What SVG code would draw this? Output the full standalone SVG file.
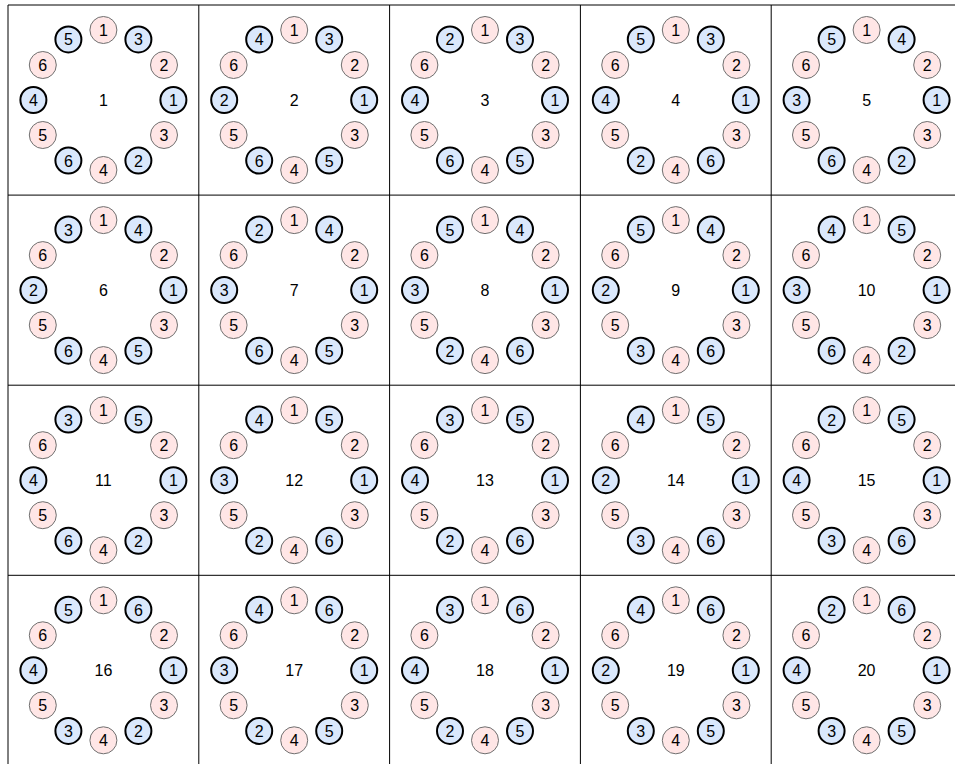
<svg xmlns="http://www.w3.org/2000/svg" width="955" height="764" viewBox="0 0 955 764">
<style>
text{font-family:"Liberation Sans",Arial,sans-serif;font-size:16px;text-anchor:middle;fill:#000}
.p circle{fill:#ffe6e6;stroke:#6f6f6f;stroke-width:1}
.b circle{fill:#dae8fc;stroke:#000;stroke-width:2}
.grid{stroke:#000;stroke-width:1;fill:none}
</style>
<rect x="0" y="0" width="955" height="764" fill="#fff"/>
<g id="grid" class="grid">
<path d="M8 5V765.4M198.8 5V765.4M389.6 5V765.4M580.4 5V765.4M771.2 5V765.4M962 5V765.4M8 5H962M8 195.1H962M8 385.2H962M8 575.3H962M8 765.4H962"/>
</g>
<g id="connectors"></g>

<g id="cell-1" transform="translate(103.4,100)">
<text x="0" y="6">1</text>
<g id="n1-p1" class="p"><circle cx="0" cy="-70" r="13.5"/><text x="0" y="-64">1</text></g>
<g id="n1-ur" class="b"><circle cx="35" cy="-60.6" r="13"/><text x="35" y="-54.6">3</text></g>
<g id="n1-p2" class="p"><circle cx="60.6" cy="-35" r="13.5"/><text x="60.6" y="-29">2</text></g>
<g id="n1-r" class="b"><circle cx="70" cy="0" r="13"/><text x="70" y="6">1</text></g>
<g id="n1-p3" class="p"><circle cx="60.6" cy="35" r="13.5"/><text x="60.6" y="41">3</text></g>
<g id="n1-lr" class="b"><circle cx="35" cy="60.6" r="13"/><text x="35" y="66.6">2</text></g>
<g id="n1-p4" class="p"><circle cx="0" cy="70" r="13.5"/><text x="0" y="76">4</text></g>
<g id="n1-ll" class="b"><circle cx="-35" cy="60.6" r="13"/><text x="-35" y="66.6">6</text></g>
<g id="n1-p5" class="p"><circle cx="-60.6" cy="35" r="13.5"/><text x="-60.6" y="41">5</text></g>
<g id="n1-l" class="b"><circle cx="-70" cy="0" r="13"/><text x="-70" y="6">4</text></g>
<g id="n1-p6" class="p"><circle cx="-60.6" cy="-35" r="13.5"/><text x="-60.6" y="-29">6</text></g>
<g id="n1-ul" class="b"><circle cx="-35" cy="-60.6" r="13"/><text x="-35" y="-54.6">5</text></g>
</g>

<g id="cell-2" transform="translate(294.2,100)">
<text x="0" y="6">2</text>
<g id="n2-p1" class="p"><circle cx="0" cy="-70" r="13.5"/><text x="0" y="-64">1</text></g>
<g id="n2-ur" class="b"><circle cx="35" cy="-60.6" r="13"/><text x="35" y="-54.6">3</text></g>
<g id="n2-p2" class="p"><circle cx="60.6" cy="-35" r="13.5"/><text x="60.6" y="-29">2</text></g>
<g id="n2-r" class="b"><circle cx="70" cy="0" r="13"/><text x="70" y="6">1</text></g>
<g id="n2-p3" class="p"><circle cx="60.6" cy="35" r="13.5"/><text x="60.6" y="41">3</text></g>
<g id="n2-lr" class="b"><circle cx="35" cy="60.6" r="13"/><text x="35" y="66.6">5</text></g>
<g id="n2-p4" class="p"><circle cx="0" cy="70" r="13.5"/><text x="0" y="76">4</text></g>
<g id="n2-ll" class="b"><circle cx="-35" cy="60.6" r="13"/><text x="-35" y="66.6">6</text></g>
<g id="n2-p5" class="p"><circle cx="-60.6" cy="35" r="13.5"/><text x="-60.6" y="41">5</text></g>
<g id="n2-l" class="b"><circle cx="-70" cy="0" r="13"/><text x="-70" y="6">2</text></g>
<g id="n2-p6" class="p"><circle cx="-60.6" cy="-35" r="13.5"/><text x="-60.6" y="-29">6</text></g>
<g id="n2-ul" class="b"><circle cx="-35" cy="-60.6" r="13"/><text x="-35" y="-54.6">4</text></g>
</g>

<g id="cell-3" transform="translate(485,100)">
<text x="0" y="6">3</text>
<g id="n3-p1" class="p"><circle cx="0" cy="-70" r="13.5"/><text x="0" y="-64">1</text></g>
<g id="n3-ur" class="b"><circle cx="35" cy="-60.6" r="13"/><text x="35" y="-54.6">3</text></g>
<g id="n3-p2" class="p"><circle cx="60.6" cy="-35" r="13.5"/><text x="60.6" y="-29">2</text></g>
<g id="n3-r" class="b"><circle cx="70" cy="0" r="13"/><text x="70" y="6">1</text></g>
<g id="n3-p3" class="p"><circle cx="60.6" cy="35" r="13.5"/><text x="60.6" y="41">3</text></g>
<g id="n3-lr" class="b"><circle cx="35" cy="60.6" r="13"/><text x="35" y="66.6">5</text></g>
<g id="n3-p4" class="p"><circle cx="0" cy="70" r="13.5"/><text x="0" y="76">4</text></g>
<g id="n3-ll" class="b"><circle cx="-35" cy="60.6" r="13"/><text x="-35" y="66.6">6</text></g>
<g id="n3-p5" class="p"><circle cx="-60.6" cy="35" r="13.5"/><text x="-60.6" y="41">5</text></g>
<g id="n3-l" class="b"><circle cx="-70" cy="0" r="13"/><text x="-70" y="6">4</text></g>
<g id="n3-p6" class="p"><circle cx="-60.6" cy="-35" r="13.5"/><text x="-60.6" y="-29">6</text></g>
<g id="n3-ul" class="b"><circle cx="-35" cy="-60.6" r="13"/><text x="-35" y="-54.6">2</text></g>
</g>

<g id="cell-4" transform="translate(675.8,100)">
<text x="0" y="6">4</text>
<g id="n4-p1" class="p"><circle cx="0" cy="-70" r="13.5"/><text x="0" y="-64">1</text></g>
<g id="n4-ur" class="b"><circle cx="35" cy="-60.6" r="13"/><text x="35" y="-54.6">3</text></g>
<g id="n4-p2" class="p"><circle cx="60.6" cy="-35" r="13.5"/><text x="60.6" y="-29">2</text></g>
<g id="n4-r" class="b"><circle cx="70" cy="0" r="13"/><text x="70" y="6">1</text></g>
<g id="n4-p3" class="p"><circle cx="60.6" cy="35" r="13.5"/><text x="60.6" y="41">3</text></g>
<g id="n4-lr" class="b"><circle cx="35" cy="60.6" r="13"/><text x="35" y="66.6">6</text></g>
<g id="n4-p4" class="p"><circle cx="0" cy="70" r="13.5"/><text x="0" y="76">4</text></g>
<g id="n4-ll" class="b"><circle cx="-35" cy="60.6" r="13"/><text x="-35" y="66.6">2</text></g>
<g id="n4-p5" class="p"><circle cx="-60.6" cy="35" r="13.5"/><text x="-60.6" y="41">5</text></g>
<g id="n4-l" class="b"><circle cx="-70" cy="0" r="13"/><text x="-70" y="6">4</text></g>
<g id="n4-p6" class="p"><circle cx="-60.6" cy="-35" r="13.5"/><text x="-60.6" y="-29">6</text></g>
<g id="n4-ul" class="b"><circle cx="-35" cy="-60.6" r="13"/><text x="-35" y="-54.6">5</text></g>
</g>

<g id="cell-5" transform="translate(866.6,100)">
<text x="0" y="6">5</text>
<g id="n5-p1" class="p"><circle cx="0" cy="-70" r="13.5"/><text x="0" y="-64">1</text></g>
<g id="n5-ur" class="b"><circle cx="35" cy="-60.6" r="13"/><text x="35" y="-54.6">4</text></g>
<g id="n5-p2" class="p"><circle cx="60.6" cy="-35" r="13.5"/><text x="60.6" y="-29">2</text></g>
<g id="n5-r" class="b"><circle cx="70" cy="0" r="13"/><text x="70" y="6">1</text></g>
<g id="n5-p3" class="p"><circle cx="60.6" cy="35" r="13.5"/><text x="60.6" y="41">3</text></g>
<g id="n5-lr" class="b"><circle cx="35" cy="60.6" r="13"/><text x="35" y="66.6">2</text></g>
<g id="n5-p4" class="p"><circle cx="0" cy="70" r="13.5"/><text x="0" y="76">4</text></g>
<g id="n5-ll" class="b"><circle cx="-35" cy="60.6" r="13"/><text x="-35" y="66.6">6</text></g>
<g id="n5-p5" class="p"><circle cx="-60.6" cy="35" r="13.5"/><text x="-60.6" y="41">5</text></g>
<g id="n5-l" class="b"><circle cx="-70" cy="0" r="13"/><text x="-70" y="6">3</text></g>
<g id="n5-p6" class="p"><circle cx="-60.6" cy="-35" r="13.5"/><text x="-60.6" y="-29">6</text></g>
<g id="n5-ul" class="b"><circle cx="-35" cy="-60.6" r="13"/><text x="-35" y="-54.6">5</text></g>
</g>

<g id="cell-6" transform="translate(103.4,290.1)">
<text x="0" y="6">6</text>
<g id="n6-p1" class="p"><circle cx="0" cy="-70" r="13.5"/><text x="0" y="-64">1</text></g>
<g id="n6-ur" class="b"><circle cx="35" cy="-60.6" r="13"/><text x="35" y="-54.6">4</text></g>
<g id="n6-p2" class="p"><circle cx="60.6" cy="-35" r="13.5"/><text x="60.6" y="-29">2</text></g>
<g id="n6-r" class="b"><circle cx="70" cy="0" r="13"/><text x="70" y="6">1</text></g>
<g id="n6-p3" class="p"><circle cx="60.6" cy="35" r="13.5"/><text x="60.6" y="41">3</text></g>
<g id="n6-lr" class="b"><circle cx="35" cy="60.6" r="13"/><text x="35" y="66.6">5</text></g>
<g id="n6-p4" class="p"><circle cx="0" cy="70" r="13.5"/><text x="0" y="76">4</text></g>
<g id="n6-ll" class="b"><circle cx="-35" cy="60.6" r="13"/><text x="-35" y="66.6">6</text></g>
<g id="n6-p5" class="p"><circle cx="-60.6" cy="35" r="13.5"/><text x="-60.6" y="41">5</text></g>
<g id="n6-l" class="b"><circle cx="-70" cy="0" r="13"/><text x="-70" y="6">2</text></g>
<g id="n6-p6" class="p"><circle cx="-60.6" cy="-35" r="13.5"/><text x="-60.6" y="-29">6</text></g>
<g id="n6-ul" class="b"><circle cx="-35" cy="-60.6" r="13"/><text x="-35" y="-54.6">3</text></g>
</g>

<g id="cell-7" transform="translate(294.2,290.1)">
<text x="0" y="6">7</text>
<g id="n7-p1" class="p"><circle cx="0" cy="-70" r="13.5"/><text x="0" y="-64">1</text></g>
<g id="n7-ur" class="b"><circle cx="35" cy="-60.6" r="13"/><text x="35" y="-54.6">4</text></g>
<g id="n7-p2" class="p"><circle cx="60.6" cy="-35" r="13.5"/><text x="60.6" y="-29">2</text></g>
<g id="n7-r" class="b"><circle cx="70" cy="0" r="13"/><text x="70" y="6">1</text></g>
<g id="n7-p3" class="p"><circle cx="60.6" cy="35" r="13.5"/><text x="60.6" y="41">3</text></g>
<g id="n7-lr" class="b"><circle cx="35" cy="60.6" r="13"/><text x="35" y="66.6">5</text></g>
<g id="n7-p4" class="p"><circle cx="0" cy="70" r="13.5"/><text x="0" y="76">4</text></g>
<g id="n7-ll" class="b"><circle cx="-35" cy="60.6" r="13"/><text x="-35" y="66.6">6</text></g>
<g id="n7-p5" class="p"><circle cx="-60.6" cy="35" r="13.5"/><text x="-60.6" y="41">5</text></g>
<g id="n7-l" class="b"><circle cx="-70" cy="0" r="13"/><text x="-70" y="6">3</text></g>
<g id="n7-p6" class="p"><circle cx="-60.6" cy="-35" r="13.5"/><text x="-60.6" y="-29">6</text></g>
<g id="n7-ul" class="b"><circle cx="-35" cy="-60.6" r="13"/><text x="-35" y="-54.6">2</text></g>
</g>

<g id="cell-8" transform="translate(485,290.1)">
<text x="0" y="6">8</text>
<g id="n8-p1" class="p"><circle cx="0" cy="-70" r="13.5"/><text x="0" y="-64">1</text></g>
<g id="n8-ur" class="b"><circle cx="35" cy="-60.6" r="13"/><text x="35" y="-54.6">4</text></g>
<g id="n8-p2" class="p"><circle cx="60.6" cy="-35" r="13.5"/><text x="60.6" y="-29">2</text></g>
<g id="n8-r" class="b"><circle cx="70" cy="0" r="13"/><text x="70" y="6">1</text></g>
<g id="n8-p3" class="p"><circle cx="60.6" cy="35" r="13.5"/><text x="60.6" y="41">3</text></g>
<g id="n8-lr" class="b"><circle cx="35" cy="60.6" r="13"/><text x="35" y="66.6">6</text></g>
<g id="n8-p4" class="p"><circle cx="0" cy="70" r="13.5"/><text x="0" y="76">4</text></g>
<g id="n8-ll" class="b"><circle cx="-35" cy="60.6" r="13"/><text x="-35" y="66.6">2</text></g>
<g id="n8-p5" class="p"><circle cx="-60.6" cy="35" r="13.5"/><text x="-60.6" y="41">5</text></g>
<g id="n8-l" class="b"><circle cx="-70" cy="0" r="13"/><text x="-70" y="6">3</text></g>
<g id="n8-p6" class="p"><circle cx="-60.6" cy="-35" r="13.5"/><text x="-60.6" y="-29">6</text></g>
<g id="n8-ul" class="b"><circle cx="-35" cy="-60.6" r="13"/><text x="-35" y="-54.6">5</text></g>
</g>

<g id="cell-9" transform="translate(675.8,290.1)">
<text x="0" y="6">9</text>
<g id="n9-p1" class="p"><circle cx="0" cy="-70" r="13.5"/><text x="0" y="-64">1</text></g>
<g id="n9-ur" class="b"><circle cx="35" cy="-60.6" r="13"/><text x="35" y="-54.6">4</text></g>
<g id="n9-p2" class="p"><circle cx="60.6" cy="-35" r="13.5"/><text x="60.6" y="-29">2</text></g>
<g id="n9-r" class="b"><circle cx="70" cy="0" r="13"/><text x="70" y="6">1</text></g>
<g id="n9-p3" class="p"><circle cx="60.6" cy="35" r="13.5"/><text x="60.6" y="41">3</text></g>
<g id="n9-lr" class="b"><circle cx="35" cy="60.6" r="13"/><text x="35" y="66.6">6</text></g>
<g id="n9-p4" class="p"><circle cx="0" cy="70" r="13.5"/><text x="0" y="76">4</text></g>
<g id="n9-ll" class="b"><circle cx="-35" cy="60.6" r="13"/><text x="-35" y="66.6">3</text></g>
<g id="n9-p5" class="p"><circle cx="-60.6" cy="35" r="13.5"/><text x="-60.6" y="41">5</text></g>
<g id="n9-l" class="b"><circle cx="-70" cy="0" r="13"/><text x="-70" y="6">2</text></g>
<g id="n9-p6" class="p"><circle cx="-60.6" cy="-35" r="13.5"/><text x="-60.6" y="-29">6</text></g>
<g id="n9-ul" class="b"><circle cx="-35" cy="-60.6" r="13"/><text x="-35" y="-54.6">5</text></g>
</g>

<g id="cell-10" transform="translate(866.6,290.1)">
<text x="0" y="6">10</text>
<g id="n10-p1" class="p"><circle cx="0" cy="-70" r="13.5"/><text x="0" y="-64">1</text></g>
<g id="n10-ur" class="b"><circle cx="35" cy="-60.6" r="13"/><text x="35" y="-54.6">5</text></g>
<g id="n10-p2" class="p"><circle cx="60.6" cy="-35" r="13.5"/><text x="60.6" y="-29">2</text></g>
<g id="n10-r" class="b"><circle cx="70" cy="0" r="13"/><text x="70" y="6">1</text></g>
<g id="n10-p3" class="p"><circle cx="60.6" cy="35" r="13.5"/><text x="60.6" y="41">3</text></g>
<g id="n10-lr" class="b"><circle cx="35" cy="60.6" r="13"/><text x="35" y="66.6">2</text></g>
<g id="n10-p4" class="p"><circle cx="0" cy="70" r="13.5"/><text x="0" y="76">4</text></g>
<g id="n10-ll" class="b"><circle cx="-35" cy="60.6" r="13"/><text x="-35" y="66.6">6</text></g>
<g id="n10-p5" class="p"><circle cx="-60.6" cy="35" r="13.5"/><text x="-60.6" y="41">5</text></g>
<g id="n10-l" class="b"><circle cx="-70" cy="0" r="13"/><text x="-70" y="6">3</text></g>
<g id="n10-p6" class="p"><circle cx="-60.6" cy="-35" r="13.5"/><text x="-60.6" y="-29">6</text></g>
<g id="n10-ul" class="b"><circle cx="-35" cy="-60.6" r="13"/><text x="-35" y="-54.6">4</text></g>
</g>

<g id="cell-11" transform="translate(103.4,480.2)">
<text x="0" y="6">11</text>
<g id="n11-p1" class="p"><circle cx="0" cy="-70" r="13.5"/><text x="0" y="-64">1</text></g>
<g id="n11-ur" class="b"><circle cx="35" cy="-60.6" r="13"/><text x="35" y="-54.6">5</text></g>
<g id="n11-p2" class="p"><circle cx="60.6" cy="-35" r="13.5"/><text x="60.6" y="-29">2</text></g>
<g id="n11-r" class="b"><circle cx="70" cy="0" r="13"/><text x="70" y="6">1</text></g>
<g id="n11-p3" class="p"><circle cx="60.6" cy="35" r="13.5"/><text x="60.6" y="41">3</text></g>
<g id="n11-lr" class="b"><circle cx="35" cy="60.6" r="13"/><text x="35" y="66.6">2</text></g>
<g id="n11-p4" class="p"><circle cx="0" cy="70" r="13.5"/><text x="0" y="76">4</text></g>
<g id="n11-ll" class="b"><circle cx="-35" cy="60.6" r="13"/><text x="-35" y="66.6">6</text></g>
<g id="n11-p5" class="p"><circle cx="-60.6" cy="35" r="13.5"/><text x="-60.6" y="41">5</text></g>
<g id="n11-l" class="b"><circle cx="-70" cy="0" r="13"/><text x="-70" y="6">4</text></g>
<g id="n11-p6" class="p"><circle cx="-60.6" cy="-35" r="13.5"/><text x="-60.6" y="-29">6</text></g>
<g id="n11-ul" class="b"><circle cx="-35" cy="-60.6" r="13"/><text x="-35" y="-54.6">3</text></g>
</g>

<g id="cell-12" transform="translate(294.2,480.2)">
<text x="0" y="6">12</text>
<g id="n12-p1" class="p"><circle cx="0" cy="-70" r="13.5"/><text x="0" y="-64">1</text></g>
<g id="n12-ur" class="b"><circle cx="35" cy="-60.6" r="13"/><text x="35" y="-54.6">5</text></g>
<g id="n12-p2" class="p"><circle cx="60.6" cy="-35" r="13.5"/><text x="60.6" y="-29">2</text></g>
<g id="n12-r" class="b"><circle cx="70" cy="0" r="13"/><text x="70" y="6">1</text></g>
<g id="n12-p3" class="p"><circle cx="60.6" cy="35" r="13.5"/><text x="60.6" y="41">3</text></g>
<g id="n12-lr" class="b"><circle cx="35" cy="60.6" r="13"/><text x="35" y="66.6">6</text></g>
<g id="n12-p4" class="p"><circle cx="0" cy="70" r="13.5"/><text x="0" y="76">4</text></g>
<g id="n12-ll" class="b"><circle cx="-35" cy="60.6" r="13"/><text x="-35" y="66.6">2</text></g>
<g id="n12-p5" class="p"><circle cx="-60.6" cy="35" r="13.5"/><text x="-60.6" y="41">5</text></g>
<g id="n12-l" class="b"><circle cx="-70" cy="0" r="13"/><text x="-70" y="6">3</text></g>
<g id="n12-p6" class="p"><circle cx="-60.6" cy="-35" r="13.5"/><text x="-60.6" y="-29">6</text></g>
<g id="n12-ul" class="b"><circle cx="-35" cy="-60.6" r="13"/><text x="-35" y="-54.6">4</text></g>
</g>

<g id="cell-13" transform="translate(485,480.2)">
<text x="0" y="6">13</text>
<g id="n13-p1" class="p"><circle cx="0" cy="-70" r="13.5"/><text x="0" y="-64">1</text></g>
<g id="n13-ur" class="b"><circle cx="35" cy="-60.6" r="13"/><text x="35" y="-54.6">5</text></g>
<g id="n13-p2" class="p"><circle cx="60.6" cy="-35" r="13.5"/><text x="60.6" y="-29">2</text></g>
<g id="n13-r" class="b"><circle cx="70" cy="0" r="13"/><text x="70" y="6">1</text></g>
<g id="n13-p3" class="p"><circle cx="60.6" cy="35" r="13.5"/><text x="60.6" y="41">3</text></g>
<g id="n13-lr" class="b"><circle cx="35" cy="60.6" r="13"/><text x="35" y="66.6">6</text></g>
<g id="n13-p4" class="p"><circle cx="0" cy="70" r="13.5"/><text x="0" y="76">4</text></g>
<g id="n13-ll" class="b"><circle cx="-35" cy="60.6" r="13"/><text x="-35" y="66.6">2</text></g>
<g id="n13-p5" class="p"><circle cx="-60.6" cy="35" r="13.5"/><text x="-60.6" y="41">5</text></g>
<g id="n13-l" class="b"><circle cx="-70" cy="0" r="13"/><text x="-70" y="6">4</text></g>
<g id="n13-p6" class="p"><circle cx="-60.6" cy="-35" r="13.5"/><text x="-60.6" y="-29">6</text></g>
<g id="n13-ul" class="b"><circle cx="-35" cy="-60.6" r="13"/><text x="-35" y="-54.6">3</text></g>
</g>

<g id="cell-14" transform="translate(675.8,480.2)">
<text x="0" y="6">14</text>
<g id="n14-p1" class="p"><circle cx="0" cy="-70" r="13.5"/><text x="0" y="-64">1</text></g>
<g id="n14-ur" class="b"><circle cx="35" cy="-60.6" r="13"/><text x="35" y="-54.6">5</text></g>
<g id="n14-p2" class="p"><circle cx="60.6" cy="-35" r="13.5"/><text x="60.6" y="-29">2</text></g>
<g id="n14-r" class="b"><circle cx="70" cy="0" r="13"/><text x="70" y="6">1</text></g>
<g id="n14-p3" class="p"><circle cx="60.6" cy="35" r="13.5"/><text x="60.6" y="41">3</text></g>
<g id="n14-lr" class="b"><circle cx="35" cy="60.6" r="13"/><text x="35" y="66.6">6</text></g>
<g id="n14-p4" class="p"><circle cx="0" cy="70" r="13.5"/><text x="0" y="76">4</text></g>
<g id="n14-ll" class="b"><circle cx="-35" cy="60.6" r="13"/><text x="-35" y="66.6">3</text></g>
<g id="n14-p5" class="p"><circle cx="-60.6" cy="35" r="13.5"/><text x="-60.6" y="41">5</text></g>
<g id="n14-l" class="b"><circle cx="-70" cy="0" r="13"/><text x="-70" y="6">2</text></g>
<g id="n14-p6" class="p"><circle cx="-60.6" cy="-35" r="13.5"/><text x="-60.6" y="-29">6</text></g>
<g id="n14-ul" class="b"><circle cx="-35" cy="-60.6" r="13"/><text x="-35" y="-54.6">4</text></g>
</g>

<g id="cell-15" transform="translate(866.6,480.2)">
<text x="0" y="6">15</text>
<g id="n15-p1" class="p"><circle cx="0" cy="-70" r="13.5"/><text x="0" y="-64">1</text></g>
<g id="n15-ur" class="b"><circle cx="35" cy="-60.6" r="13"/><text x="35" y="-54.6">5</text></g>
<g id="n15-p2" class="p"><circle cx="60.6" cy="-35" r="13.5"/><text x="60.6" y="-29">2</text></g>
<g id="n15-r" class="b"><circle cx="70" cy="0" r="13"/><text x="70" y="6">1</text></g>
<g id="n15-p3" class="p"><circle cx="60.6" cy="35" r="13.5"/><text x="60.6" y="41">3</text></g>
<g id="n15-lr" class="b"><circle cx="35" cy="60.6" r="13"/><text x="35" y="66.6">6</text></g>
<g id="n15-p4" class="p"><circle cx="0" cy="70" r="13.5"/><text x="0" y="76">4</text></g>
<g id="n15-ll" class="b"><circle cx="-35" cy="60.6" r="13"/><text x="-35" y="66.6">3</text></g>
<g id="n15-p5" class="p"><circle cx="-60.6" cy="35" r="13.5"/><text x="-60.6" y="41">5</text></g>
<g id="n15-l" class="b"><circle cx="-70" cy="0" r="13"/><text x="-70" y="6">4</text></g>
<g id="n15-p6" class="p"><circle cx="-60.6" cy="-35" r="13.5"/><text x="-60.6" y="-29">6</text></g>
<g id="n15-ul" class="b"><circle cx="-35" cy="-60.6" r="13"/><text x="-35" y="-54.6">2</text></g>
</g>

<g id="cell-16" transform="translate(103.4,670.3)">
<text x="0" y="6">16</text>
<g id="n16-p1" class="p"><circle cx="0" cy="-70" r="13.5"/><text x="0" y="-64">1</text></g>
<g id="n16-ur" class="b"><circle cx="35" cy="-60.6" r="13"/><text x="35" y="-54.6">6</text></g>
<g id="n16-p2" class="p"><circle cx="60.6" cy="-35" r="13.5"/><text x="60.6" y="-29">2</text></g>
<g id="n16-r" class="b"><circle cx="70" cy="0" r="13"/><text x="70" y="6">1</text></g>
<g id="n16-p3" class="p"><circle cx="60.6" cy="35" r="13.5"/><text x="60.6" y="41">3</text></g>
<g id="n16-lr" class="b"><circle cx="35" cy="60.6" r="13"/><text x="35" y="66.6">2</text></g>
<g id="n16-p4" class="p"><circle cx="0" cy="70" r="13.5"/><text x="0" y="76">4</text></g>
<g id="n16-ll" class="b"><circle cx="-35" cy="60.6" r="13"/><text x="-35" y="66.6">3</text></g>
<g id="n16-p5" class="p"><circle cx="-60.6" cy="35" r="13.5"/><text x="-60.6" y="41">5</text></g>
<g id="n16-l" class="b"><circle cx="-70" cy="0" r="13"/><text x="-70" y="6">4</text></g>
<g id="n16-p6" class="p"><circle cx="-60.6" cy="-35" r="13.5"/><text x="-60.6" y="-29">6</text></g>
<g id="n16-ul" class="b"><circle cx="-35" cy="-60.6" r="13"/><text x="-35" y="-54.6">5</text></g>
</g>

<g id="cell-17" transform="translate(294.2,670.3)">
<text x="0" y="6">17</text>
<g id="n17-p1" class="p"><circle cx="0" cy="-70" r="13.5"/><text x="0" y="-64">1</text></g>
<g id="n17-ur" class="b"><circle cx="35" cy="-60.6" r="13"/><text x="35" y="-54.6">6</text></g>
<g id="n17-p2" class="p"><circle cx="60.6" cy="-35" r="13.5"/><text x="60.6" y="-29">2</text></g>
<g id="n17-r" class="b"><circle cx="70" cy="0" r="13"/><text x="70" y="6">1</text></g>
<g id="n17-p3" class="p"><circle cx="60.6" cy="35" r="13.5"/><text x="60.6" y="41">3</text></g>
<g id="n17-lr" class="b"><circle cx="35" cy="60.6" r="13"/><text x="35" y="66.6">5</text></g>
<g id="n17-p4" class="p"><circle cx="0" cy="70" r="13.5"/><text x="0" y="76">4</text></g>
<g id="n17-ll" class="b"><circle cx="-35" cy="60.6" r="13"/><text x="-35" y="66.6">2</text></g>
<g id="n17-p5" class="p"><circle cx="-60.6" cy="35" r="13.5"/><text x="-60.6" y="41">5</text></g>
<g id="n17-l" class="b"><circle cx="-70" cy="0" r="13"/><text x="-70" y="6">3</text></g>
<g id="n17-p6" class="p"><circle cx="-60.6" cy="-35" r="13.5"/><text x="-60.6" y="-29">6</text></g>
<g id="n17-ul" class="b"><circle cx="-35" cy="-60.6" r="13"/><text x="-35" y="-54.6">4</text></g>
</g>

<g id="cell-18" transform="translate(485,670.3)">
<text x="0" y="6">18</text>
<g id="n18-p1" class="p"><circle cx="0" cy="-70" r="13.5"/><text x="0" y="-64">1</text></g>
<g id="n18-ur" class="b"><circle cx="35" cy="-60.6" r="13"/><text x="35" y="-54.6">6</text></g>
<g id="n18-p2" class="p"><circle cx="60.6" cy="-35" r="13.5"/><text x="60.6" y="-29">2</text></g>
<g id="n18-r" class="b"><circle cx="70" cy="0" r="13"/><text x="70" y="6">1</text></g>
<g id="n18-p3" class="p"><circle cx="60.6" cy="35" r="13.5"/><text x="60.6" y="41">3</text></g>
<g id="n18-lr" class="b"><circle cx="35" cy="60.6" r="13"/><text x="35" y="66.6">5</text></g>
<g id="n18-p4" class="p"><circle cx="0" cy="70" r="13.5"/><text x="0" y="76">4</text></g>
<g id="n18-ll" class="b"><circle cx="-35" cy="60.6" r="13"/><text x="-35" y="66.6">2</text></g>
<g id="n18-p5" class="p"><circle cx="-60.6" cy="35" r="13.5"/><text x="-60.6" y="41">5</text></g>
<g id="n18-l" class="b"><circle cx="-70" cy="0" r="13"/><text x="-70" y="6">4</text></g>
<g id="n18-p6" class="p"><circle cx="-60.6" cy="-35" r="13.5"/><text x="-60.6" y="-29">6</text></g>
<g id="n18-ul" class="b"><circle cx="-35" cy="-60.6" r="13"/><text x="-35" y="-54.6">3</text></g>
</g>

<g id="cell-19" transform="translate(675.8,670.3)">
<text x="0" y="6">19</text>
<g id="n19-p1" class="p"><circle cx="0" cy="-70" r="13.5"/><text x="0" y="-64">1</text></g>
<g id="n19-ur" class="b"><circle cx="35" cy="-60.6" r="13"/><text x="35" y="-54.6">6</text></g>
<g id="n19-p2" class="p"><circle cx="60.6" cy="-35" r="13.5"/><text x="60.6" y="-29">2</text></g>
<g id="n19-r" class="b"><circle cx="70" cy="0" r="13"/><text x="70" y="6">1</text></g>
<g id="n19-p3" class="p"><circle cx="60.6" cy="35" r="13.5"/><text x="60.6" y="41">3</text></g>
<g id="n19-lr" class="b"><circle cx="35" cy="60.6" r="13"/><text x="35" y="66.6">5</text></g>
<g id="n19-p4" class="p"><circle cx="0" cy="70" r="13.5"/><text x="0" y="76">4</text></g>
<g id="n19-ll" class="b"><circle cx="-35" cy="60.6" r="13"/><text x="-35" y="66.6">3</text></g>
<g id="n19-p5" class="p"><circle cx="-60.6" cy="35" r="13.5"/><text x="-60.6" y="41">5</text></g>
<g id="n19-l" class="b"><circle cx="-70" cy="0" r="13"/><text x="-70" y="6">2</text></g>
<g id="n19-p6" class="p"><circle cx="-60.6" cy="-35" r="13.5"/><text x="-60.6" y="-29">6</text></g>
<g id="n19-ul" class="b"><circle cx="-35" cy="-60.6" r="13"/><text x="-35" y="-54.6">4</text></g>
</g>

<g id="cell-20" transform="translate(866.6,670.3)">
<text x="0" y="6">20</text>
<g id="n20-p1" class="p"><circle cx="0" cy="-70" r="13.5"/><text x="0" y="-64">1</text></g>
<g id="n20-ur" class="b"><circle cx="35" cy="-60.6" r="13"/><text x="35" y="-54.6">6</text></g>
<g id="n20-p2" class="p"><circle cx="60.6" cy="-35" r="13.5"/><text x="60.6" y="-29">2</text></g>
<g id="n20-r" class="b"><circle cx="70" cy="0" r="13"/><text x="70" y="6">1</text></g>
<g id="n20-p3" class="p"><circle cx="60.6" cy="35" r="13.5"/><text x="60.6" y="41">3</text></g>
<g id="n20-lr" class="b"><circle cx="35" cy="60.6" r="13"/><text x="35" y="66.6">5</text></g>
<g id="n20-p4" class="p"><circle cx="0" cy="70" r="13.5"/><text x="0" y="76">4</text></g>
<g id="n20-ll" class="b"><circle cx="-35" cy="60.6" r="13"/><text x="-35" y="66.6">3</text></g>
<g id="n20-p5" class="p"><circle cx="-60.6" cy="35" r="13.5"/><text x="-60.6" y="41">5</text></g>
<g id="n20-l" class="b"><circle cx="-70" cy="0" r="13"/><text x="-70" y="6">4</text></g>
<g id="n20-p6" class="p"><circle cx="-60.6" cy="-35" r="13.5"/><text x="-60.6" y="-29">6</text></g>
<g id="n20-ul" class="b"><circle cx="-35" cy="-60.6" r="13"/><text x="-35" y="-54.6">2</text></g>
</g>
</svg>
